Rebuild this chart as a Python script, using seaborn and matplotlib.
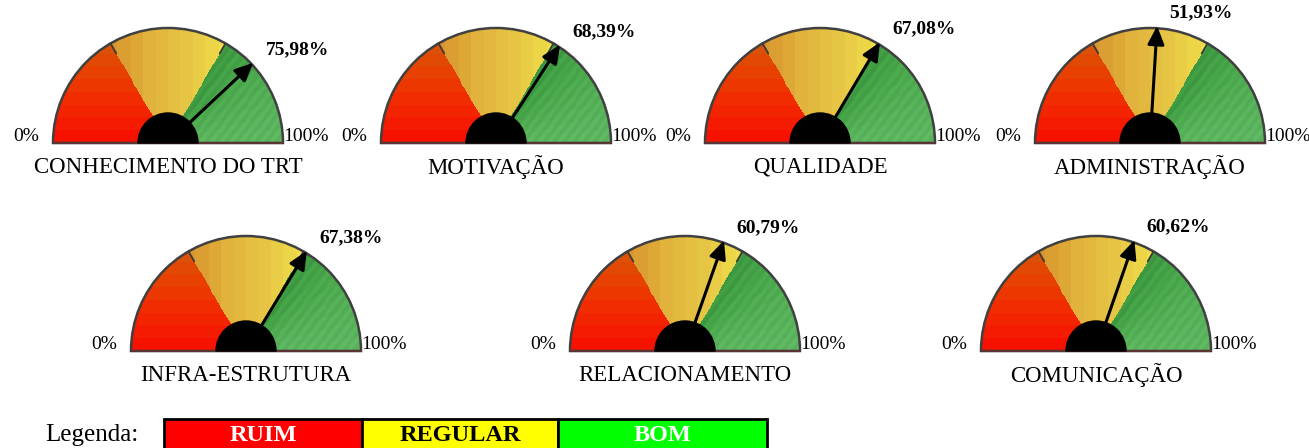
import numpy as np
import matplotlib.pyplot as plt
import seaborn as sns
from matplotlib.patches import Wedge, Rectangle

# dados do painel
categorias = ["CONHECIMENTO DO TRT", "MOTIVAÇÃO", "QUALIDADE", "ADMINISTRAÇÃO",
              "INFRA-ESTRUTURA", "RELACIONAMENTO", "COMUNICAÇÃO"]
valores = [75.98, 68.39, 67.08, 51.93, 67.38, 60.79, 60.62]
faixas = ["RUIM", "REGULAR", "BOM"]
cores_faixas = ["#ff0000", "#ffff00", "#00ff00"]
cores_texto_faixas = ["white", "black", "white"]

sns.set_theme(style="white")
plt.rcParams['font.family'] = ['Liberation Serif', 'DejaVu Serif']
plt.rcParams['text.color'] = 'black'

W, H = 1309, 448
R = 115          # raio do mostrador (px)
R_HUB = 30

# posicoes (px, eixo y para cima)
centros = [(168, 305), (496, 305), (820, 305), (1150, 305),
           (246, 97), (685, 97), (1096, 97)]

# paletas de gradiente dos setores
pal_verm = np.array(sns.blend_palette(["#f71200", "#f32a00", "#e64400", "#d65a0c"], n_colors=9))
pal_amar = np.array(sns.blend_palette(["#d9952f", "#e2b33c", "#e6c544", "#f1de4a"], n_colors=10))
pal_verde = np.array(sns.blend_palette(["#3f9c42", "#4caa4e", "#56b159", "#5db660"], n_colors=8))


def textura(n=240):
    u = np.linspace(-1, 1, n)
    v = np.linspace(0, 1, n // 2)
    U, V = np.meshgrid(u, v)
    th = np.degrees(np.arctan2(V, U))
    frac = 1 - th / 180
    img = np.zeros(U.shape + (3,))
    # vermelho: faixas horizontais
    iv = np.clip((V * len(pal_verm)).astype(int), 0, len(pal_verm) - 1)
    # amarelo: faixas verticais
    ia = np.clip(((U + 0.55) / 1.1 * len(pal_amar)).astype(int), 0, len(pal_amar) - 1)
    # verde: mais escuro perto da divisa
    ig = np.clip(((60 - th) / 60 * len(pal_verde)).astype(int), 0, len(pal_verde) - 1)
    m1 = frac < 1 / 3
    m2 = (frac >= 1 / 3) & (frac < 2 / 3)
    m3 = frac >= 2 / 3
    img[m1] = pal_verm[iv[m1]]
    img[m2] = pal_amar[ia[m2]]
    verde = pal_verde[ig] * (1 + 0.035 * np.sin((U * 1.3 - V) * 55))[..., None]
    img[m3] = verde[m3]
    return np.clip(img, 0, 1)


fig = plt.figure(figsize=(W / 100, H / 100), dpi=100)
ax = fig.add_axes([0, 0, 1, 1])
ax.set_xlim(0, W)
ax.set_ylim(0, H)
ax.axis('off')

tex = textura()

for nome, val, (cx, cy) in zip(categorias, valores, centros):
    clip = Wedge((cx, cy), R, 0, 180, facecolor='none', edgecolor='#404040', lw=1.8, zorder=3)
    ax.add_patch(clip)
    im = ax.imshow(tex, extent=[cx - R, cx + R, cy, cy + R], origin='lower',
                   interpolation='nearest', zorder=1, aspect='auto')
    im.set_clip_path(clip)
    ax.plot([cx - R, cx + R], [cy, cy], color='#5a3434', lw=1.5, zorder=3)

    # marcas nas divisas dos setores
    for a in (120, 60):
        t = np.radians(a)
        ax.plot([cx + 0.9 * R * np.cos(t), cx + R * np.cos(t)],
                [cy + 0.9 * R * np.sin(t), cy + R * np.sin(t)],
                color='#3a3a3a', lw=1.3, zorder=3)

    ax.add_patch(Wedge((cx, cy), R_HUB, 0, 180, color='black', zorder=4))

    ang = np.radians(180 * (1 - val / 100))
    ini = (cx + 28 * np.cos(ang), cy + 28 * np.sin(ang))
    fim = (cx + 1.02 * R * np.cos(ang), cy + 1.02 * R * np.sin(ang))
    ax.annotate("", xy=fim, xytext=ini, zorder=5,
                arrowprops=dict(arrowstyle="-|>,head_length=0.55,head_width=0.25",
                                color='black', lw=2.2, mutation_scale=20,
                                shrinkA=0, shrinkB=0))

    rot = f"{val:.2f}%".replace(".", ",")
    ax.text(fim[0] + 12, fim[1] + 13, rot, fontsize=14, fontweight='bold',
            ha='left', va='center', zorder=6)
    ax.text(cx - R - 14, cy + 7, "0%", fontsize=14, ha='right', va='center')
    ax.text(cx + R, cy + 7, "100%", fontsize=14, ha='left', va='center')
    ax.text(cx, cy - 24, nome, fontsize=16.5, ha='center', va='center')

# legenda
ax.text(92, H - 435, "Legenda:", fontsize=18, ha='center', va='center')
limites = [164, 362, 558, 767]
for i, (f, c, tc) in enumerate(zip(faixas, cores_faixas, cores_texto_faixas)):
    x0, x1 = limites[i], limites[i + 1]
    ax.add_patch(Rectangle((x0, -6), x1 - x0, H - 419 + 6, facecolor=c,
                           edgecolor='black', lw=2, zorder=2))
    ax.text((x0 + x1) / 2, H - 435, f, fontsize=17.5, fontweight='bold',
            color=tc, ha='center', va='center', zorder=3)

fig.savefig("out.png", dpi=100)
